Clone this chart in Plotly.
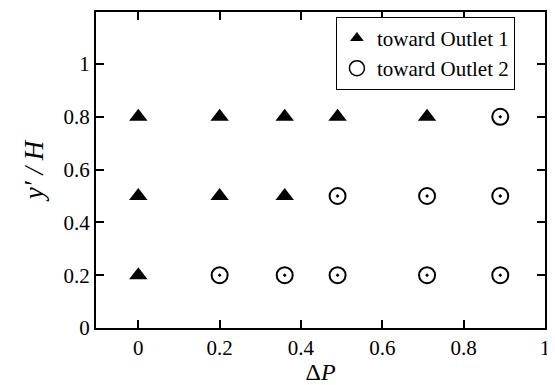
import plotly.graph_objects as go

# Data
out1_x = [0, 0.2, 0.36, 0.49, 0.71, 0, 0.2, 0.36, 0]
out1_y = [0.8, 0.8, 0.8, 0.8, 0.8, 0.5, 0.5, 0.5, 0.2]
out2_x = [0.89, 0.49, 0.71, 0.89, 0.2, 0.36, 0.49, 0.71, 0.89]
out2_y = [0.8, 0.5, 0.5, 0.5, 0.2, 0.2, 0.2, 0.2, 0.2]
x_ticks = [0, 0.2, 0.4, 0.6, 0.8, 1]
x_labels = ["0", "0.2", "0.4", "0.6", "0.8", "1"]
y_ticks = [0, 0.2, 0.4, 0.6, 0.8, 1]
y_labels = ["0", "0.2", "0.4", "0.6", "0.8", "1"]

serif = "Liberation Serif, Times New Roman, serif"

fig = go.Figure()
fig.add_trace(go.Scatter(x=out1_x, y=out1_y, mode="markers", showlegend=False,
                         marker=dict(symbol="triangle-up", size=16, color="black")))
fig.add_trace(go.Scatter(x=out2_x, y=out2_y, mode="markers", showlegend=False,
                         marker=dict(symbol="circle-dot", size=16, color="white",
                                     line=dict(color="black", width=2))))
# legend-only entries
fig.add_trace(go.Scatter(x=[None], y=[None], mode="markers", name="toward Outlet 1",
                         marker=dict(symbol="triangle-up", size=12, color="black")))
fig.add_trace(go.Scatter(x=[None], y=[None], mode="markers", name="toward Outlet 2",
                         marker=dict(symbol="circle-open", size=15, color="black",
                                     line=dict(width=1.5))))

axis_common = dict(showgrid=False, zeroline=False, showline=True, linecolor="black",
                   linewidth=2, mirror="ticks", ticks="inside", ticklen=8, tickwidth=2,
                   tickcolor="black", tickfont=dict(family=serif, size=21, color="black"))

# page body has an 8px default margin, so the figure is sized to fit the window
fig.update_layout(
    width=547, height=377,
    margin=dict(l=88, r=10, t=2, b=57),
    paper_bgcolor="white", plot_bgcolor="white",
    xaxis=dict(range=[-0.104, 1.0], tickvals=x_ticks, ticktext=x_labels,
               title=dict(text="Δ<i>P</i>", font=dict(family=serif, size=24, color="black"),
                          standoff=3),
               **axis_common),
    yaxis=dict(range=[0, 1.197], tickvals=y_ticks, ticktext=y_labels,
               title=dict(text="<i>y′ / H</i>", font=dict(family=serif, size=27, color="black"),
                          standoff=12),
               **axis_common),
    legend=dict(x=0.933, y=0.985, xanchor="right", yanchor="top",
                bgcolor="white", bordercolor="black", borderwidth=1,
                font=dict(family=serif, size=21, color="black"),
                itemwidth=30, tracegroupgap=0),
)

fig.write_html("out.html")
